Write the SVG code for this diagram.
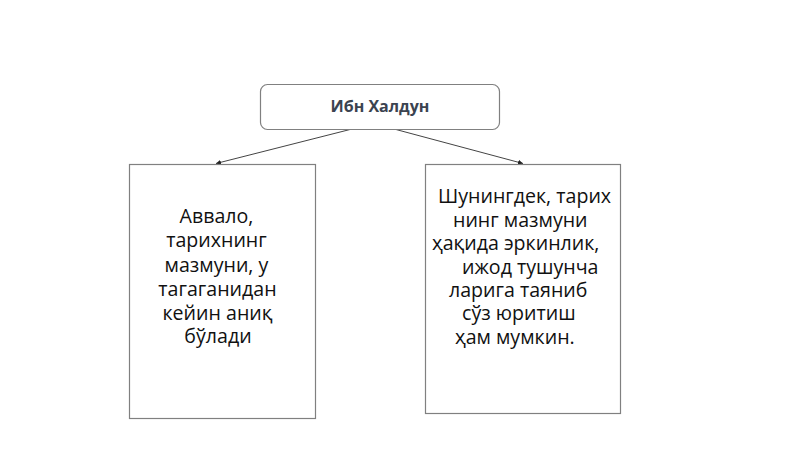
<svg xmlns="http://www.w3.org/2000/svg" width="800" height="449" viewBox="0 0 800 449">
<style>
.box{fill:#fff;stroke:#808080;stroke-width:1.2}
.title{font-family:"Open Sans","Noto Sans",sans-serif;font-weight:bold;font-size:16px;fill:#3b4350}
.t{font-family:"Open Sans","Noto Sans",sans-serif;font-size:19.6px;fill:#111}
.c{stroke:#444;stroke-width:1;fill:none;marker-end:url(#ah)}
</style>
<defs>
<marker id="ah" markerWidth="6" markerHeight="6" refX="5" refY="3" orient="auto" markerUnits="userSpaceOnUse">
<path d="M0,0.5 L5,3 L0,5.5 z" fill="#222"/>
</marker>
</defs>
<rect width="800" height="449" fill="#fff"/>
<g id="connectors">
<line class="c" x1="350" y1="129.5" x2="216" y2="163.5"/>
<line class="c" x1="396" y1="129.5" x2="523" y2="163.5"/>
</g>
<g id="node-top">
<rect class="box" x="260.5" y="84.5" width="239" height="45" rx="7" stroke="#6a6a6a"/>
<text class="title" x="380" y="112" text-anchor="middle">Ибн Халдун</text>
</g>
<g id="node-left">
<rect class="box" x="129.5" y="164.5" width="186" height="254"/>
<text class="t" text-anchor="middle">
<tspan x="219" y="223">Аввало,</tspan>
<tspan x="219" y="247">тарихнинг</tspan>
<tspan x="219" y="272">мазмуни, у</tspan>
<tspan x="220" y="296">тагаганидан</tspan>
<tspan x="220" y="320">кейин аниқ</tspan>
<tspan x="218" y="343">бўлади</tspan>
</text>
</g>
<g id="node-right">
<rect class="box" x="425.5" y="164.5" width="195" height="249"/>
<text class="t">
<tspan x="438" y="203">Шунингдек, тарих</tspan>
<tspan x="453" y="227">нинг мазмуни</tspan>
<tspan x="432" y="250">ҳақида эркинлик,</tspan>
<tspan x="462" y="274">ижод тушунча</tspan>
<tspan x="449" y="297">ларига таяниб</tspan>
<tspan x="462" y="320">сўз юритиш</tspan>
<tspan x="455" y="344">ҳам мумкин.</tspan>
</text>
</g>
</svg>
